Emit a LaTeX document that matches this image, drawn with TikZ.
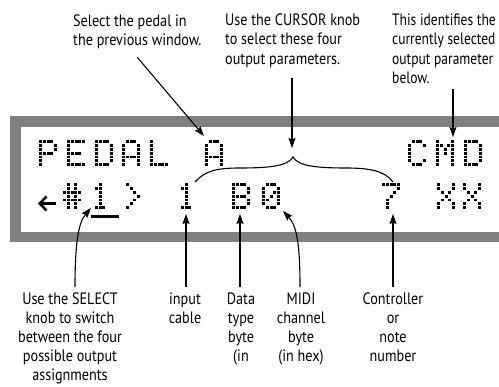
\documentclass[tikz,border=0pt]{standalone}
\usepackage{fontspec}
\setmainfont[FakeStretch=0.86]{PT Sans}
\newfontfamily\narrowlbl[FakeStretch=0.82]{PT Sans}
\usetikzlibrary{arrows.meta}
\definecolor{framegray}{RGB}{128,128,128}

% one row of a 5x7 dot-matrix glyph: five bits, x, y, row index
\newcommand\dmrow[8]{%
  \ifnum#1=1 \fill[dmdot] ({#6},{#7+#8*3.9}) rectangle ++(2.9,2.9);\fi
  \ifnum#2=1 \fill[dmdot] ({#6+3.8},{#7+#8*3.9}) rectangle ++(2.9,2.9);\fi
  \ifnum#3=1 \fill[dmdot] ({#6+7.6},{#7+#8*3.9}) rectangle ++(2.9,2.9);\fi
  \ifnum#4=1 \fill[dmdot] ({#6+11.4},{#7+#8*3.9}) rectangle ++(2.9,2.9);\fi
  \ifnum#5=1 \fill[dmdot] ({#6+15.2},{#7+#8*3.9}) rectangle ++(2.9,2.9);\fi
}
\newcommand\dmglyph[3]{%
  \foreach \rowbits [count=\ri from 0] in #3 {\expandafter\dmrow\rowbits{#1}{#2}{\ri}}%
}
\def\dmP{11110,10001,10001,11110,10000,10000,10000}
\def\dmE{11111,10000,10000,11110,10000,10000,11111}
\def\dmD{11110,10001,10001,10001,10001,10001,11110}
\def\dmA{01110,10001,10001,10001,11111,10001,10001}
\def\dmL{10000,10000,10000,10000,10000,10000,11111}
\def\dmC{01110,10001,10000,10000,10000,10001,01110}
\def\dmM{10001,11011,10101,10101,10001,10001,10001}
\def\dmHash{01010,01010,11111,01010,11111,01010,01010}
\def\dmOne{00100,01100,00100,00100,00100,00100,01110}
\def\dmGt{01000,00100,00010,00001,00010,00100,01000}
\def\dmB{11110,10001,10001,11110,10001,10001,11110}
\def\dmZero{01110,10001,10011,10101,11001,10001,01110}
\def\dmSeven{11111,00001,00010,00100,01000,01000,01000}
\def\dmX{10001,10001,01010,00100,01010,10001,10001}
\newcommand\lblstrut{\rule{0pt}{12.5pt}}

\begin{document}
\begin{tikzpicture}[x=1pt,y=-1pt,
  dmdot/.style={fill=black},
  lbl/.style={font=\fontsize{16.5}{19.2}\selectfont, inner sep=0pt},
  lbltop/.style={lbl, anchor=north west, align=left},
  lblbot/.style={lbl, anchor=north, align=center},
  arr/.style={line width=1.1pt, -{Stealth[length=10pt,width=7pt,inset=1.5pt]}},
  brace/.style={line width=1.1pt}]
\useasboundingbox (0,0) rectangle (499,387);

% display frame
\draw[framegray, line width=10.5pt] (15.25,121.5) rectangle (540,237);

% row 1: PEDAL A          CMD
\dmglyph{39}{140}{\dmP}
\dmglyph{67}{140}{\dmE}
\dmglyph{95}{140}{\dmD}
\dmglyph{122}{140}{\dmA}
\dmglyph{150}{140}{\dmL}
\dmglyph{205}{140}{\dmA}
\dmglyph{408}{140}{\dmC}
\dmglyph{436}{140}{\dmM}
\dmglyph{464}{140}{\dmD}

% row 2: <- #1>  1 B0   7 XX
\draw[line width=2.6pt] (46.5,196.5) -- (39.8,203.5) -- (46.5,210.5);
\draw[line width=2.6pt] (40,203.5) -- (56,203.5);
\dmglyph{63}{183}{\dmHash}
\dmglyph{91}{183}{\dmOne}
\dmglyph{122}{183}{\dmGt}
\dmglyph{177}{183}{\dmOne}
\dmglyph{232}{183}{\dmB}
\dmglyph{262}{183}{\dmZero}
\dmglyph{382}{183}{\dmSeven}
\dmglyph{437}{183}{\dmX}
\dmglyph{463}{183}{\dmX}
\fill (91,215) rectangle (119,218.5);

% brace over the four parameters
\draw[brace] (195,182) .. controls (205,171) and (216,168) .. (240,168)
  .. controls (270,168) and (288,166) .. (293,157)
  .. controls (298,166) and (316,168) .. (346,168)
  .. controls (370,168) and (385,171) .. (393,182);

% top labels
\node[lbltop] (selp) at (73,14) {\lblstrut Select the pedal in\\the previous window.};
\node[lbltop] (curs) at (225,13) {\lblstrut Use the CURSOR knob\\to select these four\\output parameters.};
\node[lbltop, font=\narrowlbl\fontsize{16.5}{19.2}\selectfont] (ident) at (392,13) {\lblstrut This identifies the\\currently selected\\output parameter\\below.};

% bottom labels
\node[lblbot] (selk) at (70,291.5) {\lblstrut Use the SELECT\\knob to switch\\between the four\\possible output\\assignments};
\node[lblbot] (inp) at (185,291.5) {\lblstrut input\\cable};
\node[lblbot] (data) at (241,291.5) {\lblstrut Data\\type\\byte\\(in};
\node[lblbot] (midi) at (301,291.5) {\lblstrut MIDI\\channel\\byte\\(in hex)};
\node[lblbot] (ctrl) at (393,291.5) {\lblstrut Controller\\or\\note\\number};

% targets
\coordinate (tipA) at (204,136);
\coordinate (tipB) at (292,148);
\coordinate (tipC) at (453,137);
\coordinate (tipS) at (91,208);
\coordinate (tipI) at (186,214);
\coordinate (tipD) at (240,214);
\coordinate (tipM) at (283,211);
\coordinate (tipK) at (393,214);

% top connectors
\draw[arr] ([yshift=-8pt]selp.south) -- (tipA);
\draw[arr, shorten <=10pt] (curs.south -| tipB) -- (tipB);
\draw[arr, shorten <=5pt] (ident.south -| tipC) -- (tipC);

% bottom connectors
\draw[arr] ([xshift=5pt,yshift=4.5pt]selk.north) .. controls (75,240) and (79,222) .. (tipS);
\draw[arr, shorten <=4.5pt] (inp.north -| tipI) -- (tipI);
\draw[arr, shorten <=4.5pt] (data.north -| tipD) -- (tipD);
\draw[arr] ([xshift=-1pt,yshift=4.5pt]midi.north) .. controls (300,245) and (297,226) .. (tipM);
\draw[arr, shorten <=4.5pt] (ctrl.north -| tipK) -- (tipK);
\end{tikzpicture}
\end{document}
